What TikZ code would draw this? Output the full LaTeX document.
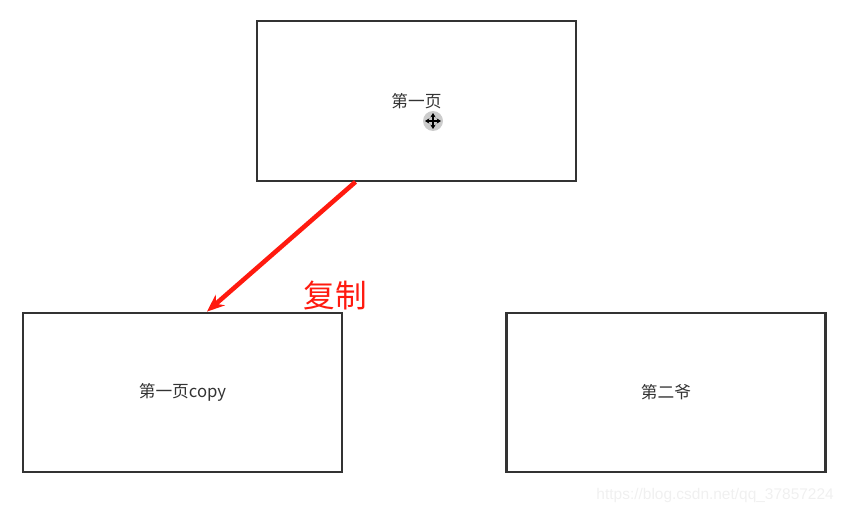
\documentclass[tikz,border=0pt]{standalone}
\usepackage{fontspec}
\setmainfont{Noto Sans CJK SC}
\newfontfamily\urlfont{Liberation Sans}
\usetikzlibrary{arrows.meta,calc,positioning}

\definecolor{boxgray}{HTML}{333333}
\definecolor{copyred}{HTML}{FF1A0F}

\begin{document}
\begin{tikzpicture}[>={Stealth[length=10pt,width=8pt]}, node distance=2cm, on grid]

	\tikzset{
		pagebox/.style = {rectangle, draw=boxgray, line width=1.3pt, minimum width=6.38cm,
			minimum height = 3.19cm, font=\fontsize{9.5}{11}\selectfont, text=boxgray}
	}

	\useasboundingbox (0,0) rectangle (16.86,-10.28);

	\node[pagebox] (page1) at (8.33,-2.02) {第一页};
	\node[pagebox] (page1copy) [below left = 5.83cm and 4.68cm of page1] {第一页copy};
	\node[pagebox] (page2) [right = 9.67cm of page1copy] {第二爷};

	% move cursor
	\coordinate (cursor) at (8.66,-2.42);
	\fill[gray!40] (cursor) circle (0.2cm);
	\draw[black, line width=1pt, <->, >={Stealth[length=2.5pt,width=3pt]}]
		([xshift=-0.16cm]cursor) -- ([xshift=0.16cm]cursor);
	\draw[black, line width=1pt, <->, >={Stealth[length=2.5pt,width=3pt]}]
		([yshift=-0.16cm]cursor) -- ([yshift=0.16cm]cursor);

	\path[->, copyred, line width=2.6pt]
		([xshift=-1.22cm]page1.south) edge node {} ([xshift=0.49cm]page1copy.north);

	\node[text=copyred, font=\fontsize{18}{20}\selectfont] (copylabel) at (6.7,-5.9) {复制};

	\node[text=gray!12, font=\urlfont\fontsize{8.8}{10}\selectfont, anchor=east] (url) at (16.80,-9.9) {https://blog.csdn.net/qq\_37857224};

\end{tikzpicture}
\end{document}
